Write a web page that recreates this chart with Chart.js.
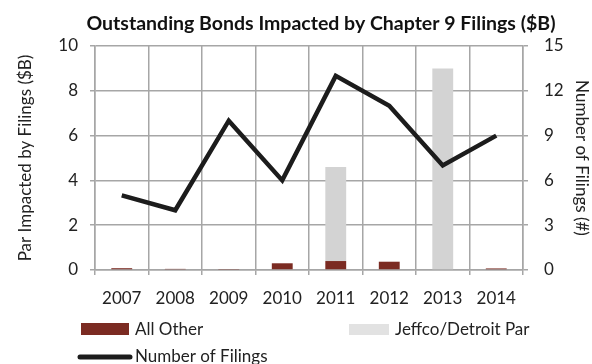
<!DOCTYPE html>
<html>
<head>
<meta charset="utf-8">
<script src="https://cdn.jsdelivr.net/npm/chart.js@4"></script>
<style>
  html, body { margin: 0; padding: 0; background: #fff; }
  #wrap { width: 592px; height: 364px; }
</style>
</head>
<body>
<div id="wrap"><canvas id="bondsChart"></canvas></div>
<script>
// chart data
const years = ['2007', '2008', '2009', '2010', '2011', '2012', '2013', '2014'];
const allOther = [0.08, 0.05, 0.02, 0.3, 0.4, 0.37, 0, 0.07];
const jeffcoDetroit = [0, 0, 0, 0, 4.2, 0, 9.0, 0];
const filings = [5, 4, 10, 6, 13, 11, 7, 9];
const chartTitle = 'Outstanding Bonds Impacted by Chapter 9 Filings ($B)';

const FONT = 'Lato, "Open Sans", sans-serif';
const gridColor = '#a6a6a6';

// title (off-centre in the original) and two-row legend
const customText = {
  id: 'customText',
  afterDraw(chart) {
    const ctx = chart.ctx;
    const ds = chart.data.datasets;
    ctx.save();
    ctx.textBaseline = 'middle';

    ctx.font = 'bold 19.5px ' + FONT;
    ctx.fillStyle = '#111';
    ctx.textAlign = 'center';
    ctx.fillText(chartTitle, 321, 24);

    ctx.textAlign = 'left';
    ctx.font = '17px ' + FONT;

    // All Other
    ctx.fillStyle = ds[1].backgroundColor;
    ctx.fillRect(81, 323, 48, 12);
    ctx.fillStyle = '#222';
    ctx.fillText(ds[1].label, 135, 330);

    // Jeffco/Detroit
    ctx.fillStyle = '#e2e2e2';
    ctx.fillRect(349, 324, 40, 11);
    ctx.fillStyle = '#222';
    ctx.fillText(ds[2].label, 395, 330);

    // Number of Filings
    ctx.strokeStyle = ds[0].borderColor;
    ctx.lineWidth = 5;
    ctx.lineCap = 'round';
    ctx.beginPath();
    ctx.moveTo(80, 357);
    ctx.lineTo(130, 357);
    ctx.stroke();
    ctx.fillText(ds[0].label, 135, 357);
    ctx.restore();
  }
};

const chart = new Chart(document.getElementById('bondsChart'), {
  type: 'bar',
  data: {
    labels: years,
    datasets: [
      {
        type: 'line',
        label: 'Number of Filings',
        data: filings,
        yAxisID: 'y1',
        borderColor: '#1c1c1c',
        borderWidth: 4.5,
        pointRadius: 0,
        tension: 0,
        order: 0
      },
      {
        label: 'All Other',
        data: allOther,
        backgroundColor: '#7b2b22',
        yAxisID: 'y',
        stack: 'par',
        barPercentage: 0.39,
        categoryPercentage: 1,
        order: 1
      },
      {
        label: 'Jeffco/Detroit Par',
        data: jeffcoDetroit,
        backgroundColor: '#d3d3d3',
        yAxisID: 'y',
        stack: 'par',
        barPercentage: 0.39,
        categoryPercentage: 1,
        order: 1
      }
    ]
  },
  options: {
    responsive: true,
    maintainAspectRatio: false,
    animation: false,
    layout: { padding: { left: 15, right: 0, top: 46, bottom: 56 } },
    plugins: {
      legend: { display: false },
      tooltip: { enabled: false },
      title: { display: false }
    },
    scales: {
      x: {
        stacked: true,
        grid: { color: gridColor, lineWidth: 1.5, offset: true, drawTicks: true, tickLength: 5 },
        border: { color: gridColor, width: 1.5 },
        ticks: { color: '#222', font: { family: FONT, size: 17 }, padding: 13 },
        afterFit(scale) { scale.height = 38; }
      },
      y: {
        position: 'left',
        stacked: true,
        min: 0,
        max: 10,
        ticks: { stepSize: 2, color: '#222', font: { family: FONT, size: 17 }, padding: 12 },
        grid: { color: gridColor, lineWidth: 1.5, tickLength: 5 },
        border: { color: gridColor, width: 1.5 },
        title: {
          display: true,
          text: 'Par Impacted by Filings ($B)',
          color: '#222',
          font: { family: FONT, size: 17 },
          padding: { top: 0, bottom: 0 }
        },
        afterFit(scale) { scale.width = 80; }
      },
      y1: {
        position: 'right',
        min: 0,
        max: 15,
        ticks: { stepSize: 3, color: '#222', font: { family: FONT, size: 17 }, padding: 16 },
        grid: { drawOnChartArea: false, color: gridColor, lineWidth: 1.5, tickLength: 5 },
        border: { color: gridColor, width: 1.5 },
        title: {
          display: true,
          text: 'Number of Filings (#)',
          color: '#222',
          font: { family: FONT, size: 17 },
          padding: { top: 0, bottom: 0 }
        },
        afterFit(scale) { scale.width = 69; }
      }
    }
  },
  plugins: [customText]
});
</script>
</body>
</html>
